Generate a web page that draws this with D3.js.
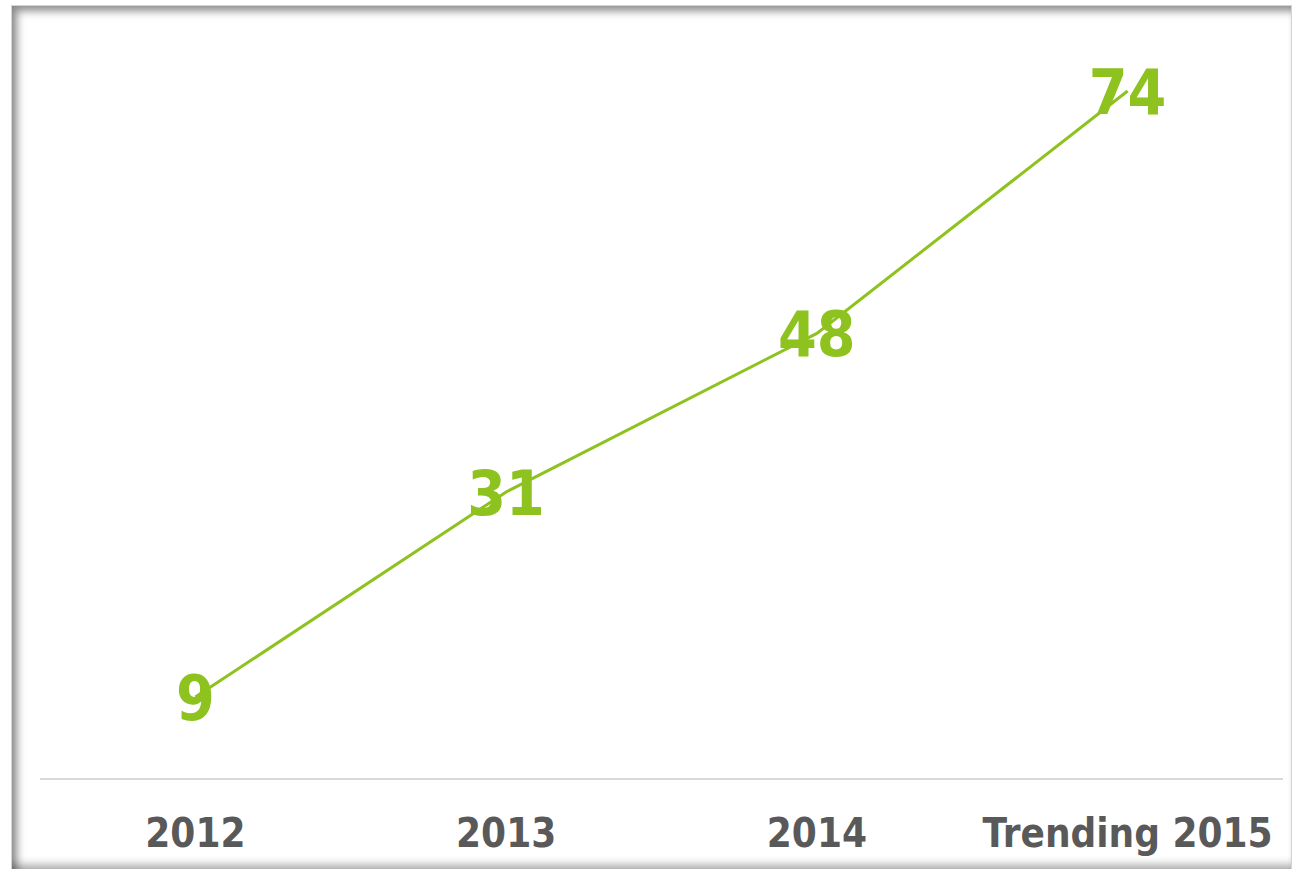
<!DOCTYPE html>
<html>
<head>
<meta charset="utf-8">
<script src="https://cdn.jsdelivr.net/npm/d3@7/dist/d3.min.js"></script>
<style>
    body { margin: 0; background: #ffffff; overflow: hidden; }
    #frame {
        position: absolute; left: 11px; top: 5px; width: 1279px; height: 863px;
        border: 1px solid #d4d4d4; border-bottom: none;
        box-shadow: inset 6px 6px 9px -1px rgba(0,0,0,0.45), inset 0 -10px 10px -6px rgba(0,0,0,0.35);
    }
    #chart { position: absolute; left: 0; top: 0; }
</style>
</head>
<body>
<div id="frame"></div>
<svg id="chart"></svg>
<script>
// chart data
let categories = ["2012", "2013", "2014", "Trending 2015"];
let values = [9, 31, 48, 74];

/*
 * Draws the trend line with the value labels on the points.
 */
function drawChart(){
    let width = 1295;
    let height = 869;
    let green = "#8dc21f";
    let grey = "#595959";
    let font = "'DejaVu Sans Condensed', 'DejaVu Sans', sans-serif";

    let svg = d3.select("#chart").attr("width", width).attr("height", height);

    let x = d3.scaleBand().domain(categories).range([40, 1283]);
    let y = d3.scaleLinear().domain([0, 80]).range([781, 35]);

    // category axis line
    svg.append("line")
        .attr("x1", 40).attr("x2", 1283)
        .attr("y1", 779).attr("y2", 779)
        .attr("stroke", "#d9d9d9")
        .attr("stroke-width", 2);

    // category labels
    svg.selectAll(".catLabel")
        .data(categories)
        .enter()
        .append("text")
        .attr("class", "catLabel")
        .attr("x", function(d){ return x(d) + x.bandwidth()/2; })
        .attr("y", 847)
        .attr("text-anchor", "middle")
        .attr("font-family", font)
        .attr("font-weight", "bold")
        .attr("font-size", 40)
        .attr("fill", grey)
        .text(function(d){ return d; });

    let line = d3.line()
        .x(function(d, i){ return x(categories[i]) + x.bandwidth()/2; })
        .y(function(d){ return y(d); });

    svg.append("path")
        .datum(values)
        .attr("d", line)
        .attr("fill", "none")
        .attr("stroke", green)
        .attr("stroke-width", 3);

    // value labels centred on the points
    let labelSize = 62;
    svg.selectAll(".valLabel")
        .data(values)
        .enter()
        .append("text")
        .attr("class", "valLabel")
        .attr("x", function(d, i){ return x(categories[i]) + x.bandwidth()/2; })
        .attr("y", function(d){ return y(d) + labelSize*0.365; })
        .attr("text-anchor", "middle")
        .attr("font-family", font)
        .attr("font-weight", "bold")
        .attr("font-size", labelSize)
        .attr("fill", green)
        .text(function(d){ return d; });
}

drawChart();
</script>
</body>
</html>
